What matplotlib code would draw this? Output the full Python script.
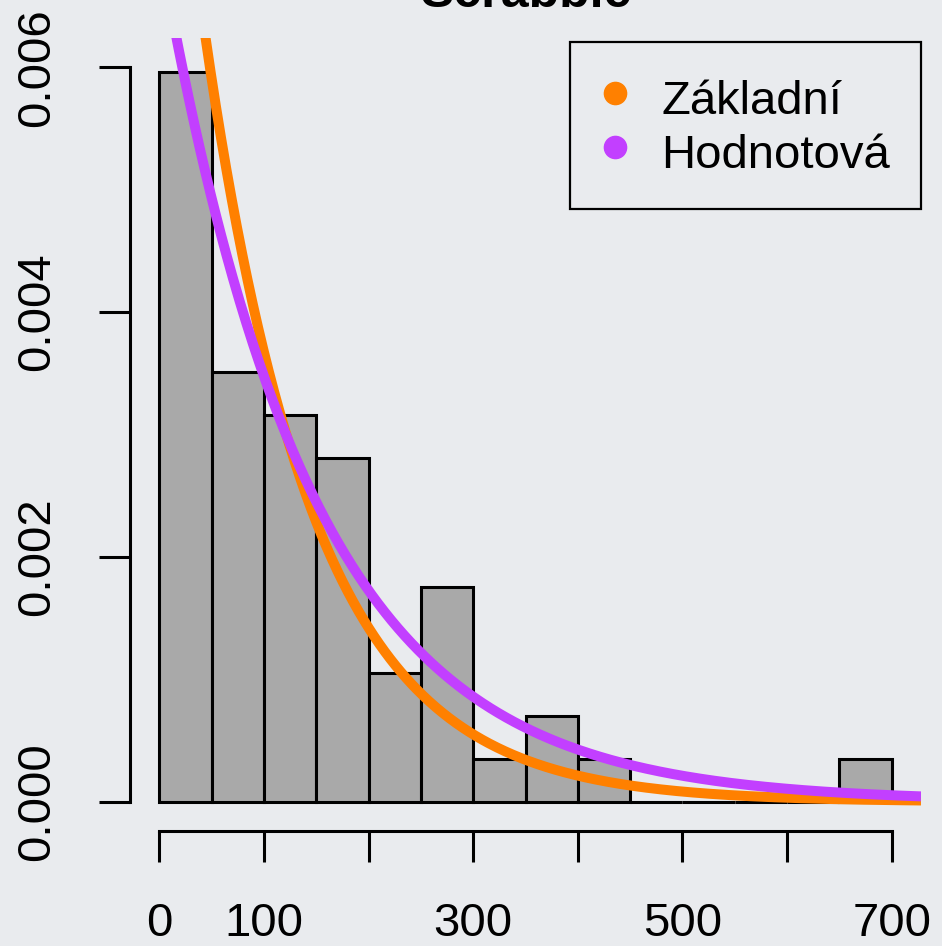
import numpy as np
import matplotlib
matplotlib.use("Agg")
import matplotlib.pyplot as plt
from matplotlib.lines import Line2D

# histogram of scores (counts per 50-point bin)
bin_edges = [0, 50, 100, 150, 200, 250, 300, 350, 400, 450, 500, 550, 600, 650, 700]
counts = [17, 10, 9, 8, 3, 5, 1, 2, 1, 0, 0, 0, 0, 1]

# fitted exponential rates for the two models
series_names = ["Základní", "Hodnotová"]
series_rates = [0.0095, 0.0070]
series_colors = ["#ff8000", "#c23fff"]

xticks = [0, 100, 200, 300, 400, 500, 600, 700]
xtick_labels = ["0", "100", "", "300", "", "500", "", "700"]
yticks = [0.000, 0.002, 0.004, 0.006]
ytick_labels = ["0.000", "0.002", "0.004", "0.006"]

plt.rcParams['font.family'] = ['Liberation Sans', 'DejaVu Sans']
bg = '#e9ebee'

W, H = 942, 946
fig = plt.figure(figsize=(W / 100, H / 100), dpi=100, facecolor=bg)
ax = fig.add_axes([130 / W, 1 - 831 / H, (921 - 130) / W, (831 - 38) / H])
ax.set_facecolor('none')

edges = np.array(bin_edges, dtype=float)
widths = np.diff(edges)
n = sum(counts)
dens = np.array(counts) / (n * widths)
ax.bar(edges[:-1], dens, width=widths, align='edge', color='#a9a9a9',
       edgecolor='black', linewidth=2.2, zorder=2)

ax.set_xlim(-28, 728)
ax.set_ylim(-0.00024, 0.00624)

xs = np.linspace(-28, 728, 600)
for name, rate, col in zip(series_names, series_rates, series_colors):
    ax.plot(xs, rate * np.exp(-rate * xs), color=col, linewidth=7.2,
            solid_capstyle='butt', zorder=3)

for s in ['top', 'right']:
    ax.spines[s].set_visible(False)
ax.spines['left'].set_bounds(0, 0.006)
ax.spines['bottom'].set_bounds(0, 700)
for s in ['left', 'bottom']:
    ax.spines[s].set_linewidth(2.2)

ax.set_xticks(xticks)
ax.set_xticklabels(xtick_labels, fontsize=34)
ax.set_yticks(yticks)
ax.set_yticklabels(ytick_labels, fontsize=34, rotation=90, va='center')
ax.tick_params(length=22, width=2.2, pad=29)

handles = [Line2D([], [], linestyle='none', marker='o', markersize=16,
                  markerfacecolor=c, markeredgecolor=c) for c in series_colors]
leg = ax.legend(handles, series_names, loc='upper right', fontsize=34,
                bbox_to_anchor=(921 / W, 1 - 42 / H), bbox_transform=fig.transFigure,
                borderaxespad=0, fancybox=False, facecolor='none', edgecolor='black',
                handlelength=0.6, handleheight=1.3, handletextpad=0.68,
                labelspacing=0.05, borderpad=0.65, framealpha=1)
leg.get_frame().set_linewidth(1.6)

fig.text(526 / W, 1 - 7 / H, "Scrabble", ha='center', va='baseline',
         fontsize=36, fontweight='bold')

fig.savefig("out.png", dpi=100, facecolor=bg)
